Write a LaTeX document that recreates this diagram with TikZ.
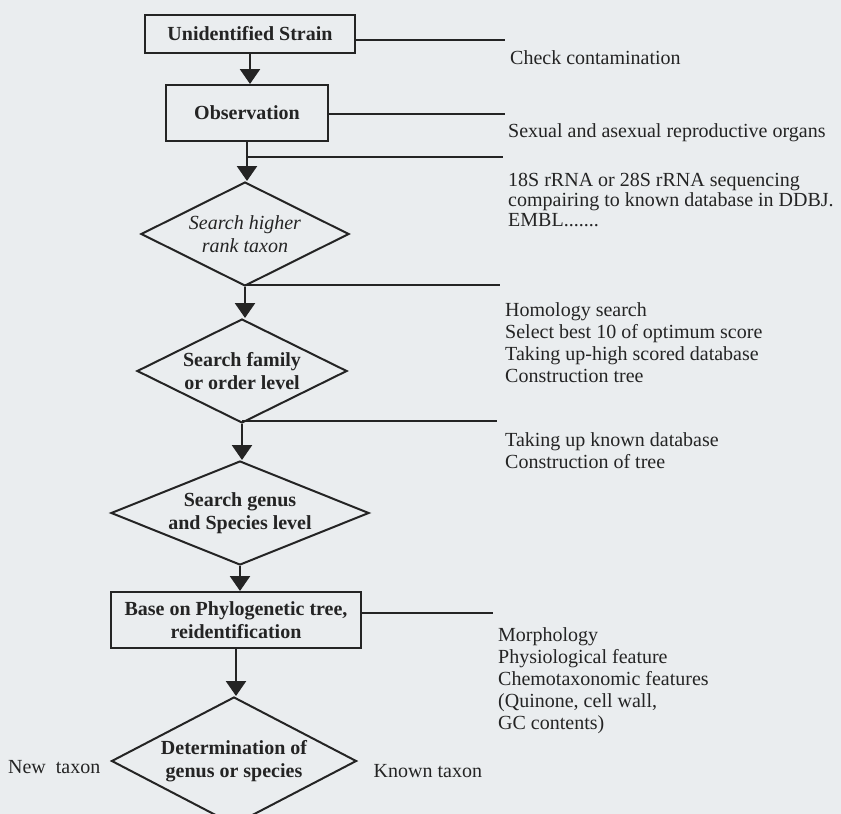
\documentclass[tikz,border=0pt]{standalone}
\usepackage{fontspec}
\setmainfont{Liberation Serif}
\usetikzlibrary{positioning,shapes.geometric,arrows.meta}
\definecolor{paper}{RGB}{234,237,239}
\definecolor{ink}{RGB}{36,36,36}

\begin{document}
\begin{tikzpicture}[x=1pt,y=-1pt,
    stepbox/.style={draw=ink,line width=2pt,inner sep=0pt,text=ink,align=center,font=\fontsize{20}{23}\selectfont\bfseries},
    decision/.style={diamond,aspect=2,draw=ink,line width=2pt,inner sep=0pt,text=ink,align=center,font=\fontsize{20}{23}\selectfont\bfseries},
    sidetext/.style={inner sep=0pt,text=ink,align=left,font=\fontsize{20}{22}\selectfont},
    flow/.style={draw=ink,line width=2.5pt,-{Triangle[width=20pt,length=15pt]}},
    link/.style={draw=ink,line width=2.2pt}] %
    \fill[paper] (0,0) rectangle (841,814);
    \useasboundingbox (0,0) rectangle (841,814);
    % main column
    \node[stepbox,minimum width=210pt,minimum height=38pt] (unid) at (250,34) {Unidentified Strain}; %
    \node[stepbox,minimum width=162pt,minimum height=56pt,below=30pt of unid,xshift=-3pt] (obs) {Observation}; %
    \node[decision,minimum width=208pt,minimum height=104pt,below=39pt of obs,xshift=-2pt,font=\fontsize{20}{23}\selectfont\itshape] (higher) {Search higher\\rank taxon}; %
    \node[decision,minimum width=210pt,minimum height=104pt,below=31pt of higher,xshift=-3pt] (family) {Search family\\or order level};
    \node[decision,aspect=2.5,minimum width=258pt,minimum height=104pt,below=36pt of family,xshift=-2pt] (genus) {Search genus\\and Species level};
    \node[stepbox,minimum width=250pt,minimum height=56pt,below=25pt of genus,xshift=-4pt] (phylo) {Base on Phylogenetic tree,\\reidentification};
    \node[decision,minimum width=245pt,minimum height=128pt,below=47pt of phylo,xshift=-2pt] (determ) {Determination of\\genus or species};
    \node[sidetext,left=10pt of determ,yshift=-6pt] (newtax) {New\ \ taxon};
    \node[sidetext,right=16pt of determ,yshift=-10pt] (knowntax) {Known taxon};
    \draw[flow] (unid) -- (unid |- obs.north);
    \draw[flow] (obs) -- (obs |- higher.north);
    \draw[flow] (higher) -- (higher |- family.north);
    \draw[flow] (family) -- (family |- genus.north);
    \draw[flow] (genus) -- (genus |- phylo.north);
    \draw[flow] (phylo) -- (phylo |- determ.north);
    % side notes
    \coordinate (e1) at (505,40);
    \coordinate (e2) at (505,114);
    \coordinate (e3) at (503,157);
    \coordinate (e4) at (500,285);
    \coordinate (e5) at (497,421);
    \coordinate (e6) at (493,613);
    \draw[link] (e1 -| unid.east) -- (e1);
    \draw[link] (e2 -| obs.east) -- (e2);
    \draw[link] (e3 -| obs.south) -- (e3);
    \draw[link] (e4 -| higher.south) -- (e4);
    \draw[link] (e5 -| family.south) -- (e5);
    \draw[link] (e6 -| phylo.east) -- (e6);
    \node[sidetext,below right=10pt and 5pt of e1] (check) {Check contamination};
    \node[sidetext,below right=9pt and 3pt of e2] (organs) {Sexual and asexual reproductive organs};
    \node[sidetext,below right=16pt and 5pt of e3,font=\fontsize{20}{20}\selectfont] (rrna) {18S rRNA or 28S rRNA sequencing\\compairing to known database in DDBJ.\\EMBL.......};
    \node[sidetext,below right=17pt and 5pt of e4] (homology) {Homology search\\Select best 10 of optimum score\\Taking up-high scored database\\Construction tree};
    \node[sidetext,below right=11pt and 8pt of e5] (known) {Taking up known database\\Construction of tree};
    \node[sidetext,below right=14pt and 5pt of e6] (morph) {Morphology\\Physiological feature\\Chemotaxonomic features\\(Quinone, cell wall,\\GC contents)};
\end{tikzpicture}
\end{document}
